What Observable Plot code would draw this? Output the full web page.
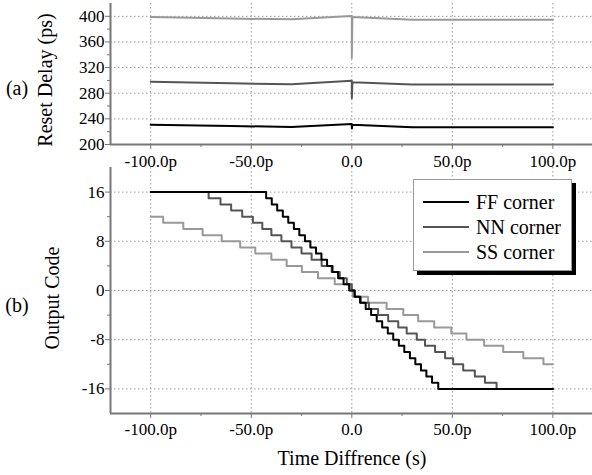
<!DOCTYPE html>
<html><head><meta charset="utf-8">
<script src="https://cdn.jsdelivr.net/npm/d3@7"></script>
<script src="https://cdn.jsdelivr.net/npm/@observablehq/plot@0.6"></script>
<style>
body{margin:0;background:#fff;}
#chart{position:relative;width:592px;height:475px;font-family:"Liberation Serif","Times New Roman",serif;overflow:hidden;background:#fff;}
#chart svg{display:block;}
.lbl{position:absolute;font-size:20px;color:#000;white-space:nowrap;line-height:1;transform:translate(-50%,-50%);}
.rot{transform:translate(-50%,-50%) rotate(-90deg);}
.legend{position:absolute;left:413px;top:179px;width:159px;height:92px;border:1px solid #999;background:#fff;box-shadow:4px 4px 0 #000;box-sizing:border-box;}
.legend .row{position:absolute;left:0;height:0;}
.legend .sw{position:absolute;left:9px;width:46px;height:2px;top:-1px;}
.legend .tx{position:absolute;left:62px;top:-11px;font-size:20px;line-height:22px;white-space:nowrap;}
</style></head><body><div id="chart"></div>
<script>
// ---- shared categories / ticks ----
const series = ["FF corner", "NN corner", "SS corner"];
const colors = ["#000000", "#555555", "#999999"];
const timeTicks = [-100, -50, 0, 50, 100];
const timeMinor = [-75, -25, 25, 75];
const delayTicks = [200, 240, 280, 320, 360, 400];
const delayMinor = [220, 260, 300, 340, 380];
const codeTicks = [16, 8, 0, -8, -16];
const codeMinor = [12, 4, -4, -12];

// ---- (a) reset delay (ps) vs time difference (ps) ----
const ffDelayT = [-100, -60, -30, 0, 0, 0.3, 30, 100];
const ffDelay  = [231, 229, 227.2, 232, 225, 231, 227, 227];
const nnDelayT = [-100, -60, -30, 0, 0, 0.3, 30, 100];
const nnDelay  = [298, 295.5, 294, 299.5, 272, 297, 293.8, 293.8];
const ssDelayT = [-100, -60, -30, 0, 0, 0.3, 30, 100];
const ssDelay  = [399, 396.5, 395.3, 400.6, 335, 399, 394.5, 394.5];

// ---- (b) output code vs time difference (ps), step levels start at each time ----
const ffTime = [-100,-42.6,-39.8,-37.1,-34.3,-31.6,-28.8,-26.1,-23.3,-20.6,-17.8,-15.1,-12.3,-9.6,-6.8,-4.1,-1.3,1.4,4.1,6.9,9.6,12.4,15.1,17.9,20.6,23.4,26.1,28.9,31.6,34.4,37.1,39.9,43,100];
const ffCode = [16,15,14,13,12,11,10,9,8,7,6,5,4,3,2,1,0,-1,-2,-3,-4,-5,-6,-7,-8,-9,-10,-11,-12,-13,-14,-15,-16,-16];
const nnTime = [-100,-71.2,-65.3,-60,-54.5,-49.2,-44.5,-40,-35,-30,-25,-20,-15,-10,-6,-2.5,0,1.5,4.5,8.5,13.1,18.1,23.1,27.3,32.3,36.4,41.4,46.4,50.4,55.4,61.2,66.2,72,100];
const nnCode = [16,15,14,13,12,11,10,9,8,7,6,5,4,3,2,1,0,-1,-2,-3,-4,-5,-6,-7,-8,-9,-10,-11,-12,-13,-14,-15,-16,-16];
const ssTime = [-100,-93.8,-83.8,-74.2,-64.7,-55.5,-48,-40,-32.4,-24.8,-16.8,-8.5,-1,0.5,8.1,17.3,25.6,33,41,49.5,57,65.8,75.3,85.3,95.3,100];
const ssCode = [12,11,10,9,8,7,6,5,4,3,2,1,0,-1,-2,-3,-4,-5,-6,-7,-8,-9,-10,-11,-12,-12];

// ---- build tables ----
function rows(name, xs, ys) { return xs.map((x, i) => ({series: name, t: x, v: ys[i]})); }
const delayData = [
  ...rows(series[2], ssDelayT, ssDelay),
  ...rows(series[1], nnDelayT, nnDelay),
  ...rows(series[0], ffDelayT, ffDelay)
];
const codeData = [
  ...rows(series[2], ssTime, ssCode),
  ...rows(series[1], nnTime, nnCode),
  ...rows(series[0], ffTime, ffCode)
];

const fmtT = d => d === 0 ? "0.0" : (d < 0 ? "-" : "") + Math.abs(d).toFixed(1) + "p";
const fmtN = d => (d < 0 ? "-" : "") + Math.abs(d);
const axisCol = "#777";
const tickFont = 17;
const gridOpts = {stroke: "#999", strokeOpacity: 1, strokeDasharray: "1.5,2.5", strokeWidth: 1};
const xScale = {domain: [-120, 119.7]};
const colorScale = {domain: series, range: colors};
const plotStyle = {fontFamily: "'Liberation Serif','Times New Roman',serif", fontSize: "17px", background: "transparent", color: "#000", overflow: "visible"};

const topPlot = Plot.plot({
  width: 592, height: 166,
  marginLeft: 110, marginRight: 0, marginTop: 3, marginBottom: 22,
  style: plotStyle,
  x: xScale,
  y: {domain: [200, 420]},
  color: colorScale,
  marks: [
    Plot.gridX(timeTicks, gridOpts),
    Plot.gridY(delayTicks, gridOpts),
    Plot.axisX(timeTicks, {tickSize: 5, tickPadding: 5, tickFormat: fmtT, stroke: axisCol, fill: "#000", fontSize: tickFont, label: null}),
    Plot.axisX(timeMinor, {tickSize: 3, tickFormat: () => "", stroke: axisCol, label: null}),
    Plot.axisY(delayTicks, {tickSize: 5, tickPadding: 1, tickFormat: fmtN, stroke: axisCol, fill: "#000", fontSize: tickFont, label: null}),
    Plot.axisY(delayMinor, {tickSize: 3, tickFormat: () => "", stroke: axisCol, label: null}),
    Plot.line(delayData, {x: "t", y: "v", z: "series", stroke: "series", strokeWidth: 2, curve: "linear"}),
    Plot.ruleY([200], {stroke: axisCol, strokeWidth: 2}),
    Plot.ruleX([-120], {stroke: axisCol, strokeWidth: 2})
  ]
});

const bottomPlot = Plot.plot({
  width: 592, height: 309,
  marginLeft: 110, marginRight: 0, marginTop: 1, marginBottom: 62,
  style: plotStyle,
  x: xScale,
  y: {domain: [-20, 20]},
  color: colorScale,
  marks: [
    Plot.gridX(timeTicks, gridOpts),
    Plot.gridY(codeTicks, gridOpts),
    Plot.axisX(timeTicks, {tickSize: 5, tickPadding: 4, tickFormat: fmtT, stroke: axisCol, fill: "#000", fontSize: tickFont, label: null}),
    Plot.axisX(timeMinor, {tickSize: 3, tickFormat: () => "", stroke: axisCol, label: null}),
    Plot.axisY(codeTicks, {tickSize: 5, tickPadding: 1, tickFormat: fmtN, stroke: axisCol, fill: "#000", fontSize: tickFont, label: null}),
    Plot.axisY(codeMinor, {tickSize: 3, tickFormat: () => "", stroke: axisCol, label: null}),
    Plot.line(codeData, {x: "t", y: "v", z: "series", stroke: "series", strokeWidth: 2, curve: "step-after"}),
    Plot.ruleY([-20], {stroke: axisCol, strokeWidth: 2}),
    Plot.ruleX([-120], {stroke: axisCol, strokeWidth: 2})
  ]
});

const chart = document.getElementById("chart");
chart.appendChild(topPlot);
chart.appendChild(bottomPlot);

function addLabel(text, x, y, rot) {
  const d = document.createElement("div");
  d.className = "lbl" + (rot ? " rot" : "");
  d.style.left = x + "px"; d.style.top = y + "px";
  d.textContent = text;
  chart.appendChild(d);
}
addLabel("(a)", 17, 88, false);
addLabel("Reset Delay (ps)", 45, 80, true);
addLabel("(b)", 17, 305, false);
addLabel("Output Code", 52, 298, true);
addLabel("Time Diffrence (s)", 352, 458, false);

const legend = document.createElement("div");
legend.className = "legend";
const rowY = [22, 47, 72];
series.forEach((s, i) => {
  const r = document.createElement("div");
  r.className = "row"; r.style.top = rowY[i] + "px";
  const sw = document.createElement("div");
  sw.className = "sw"; sw.style.background = colors[i];
  const tx = document.createElement("div");
  tx.className = "tx"; tx.textContent = s;
  r.appendChild(sw); r.appendChild(tx);
  legend.appendChild(r);
});
chart.appendChild(legend);
</script>
</body></html>
